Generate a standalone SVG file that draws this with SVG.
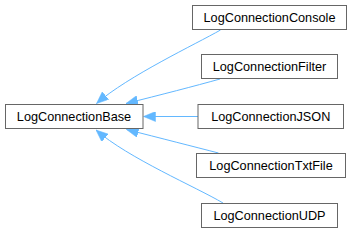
<svg xmlns="http://www.w3.org/2000/svg" width="355" height="233" viewBox="0 0 355 233">
<style>
.box{fill:#ffffff;stroke:#666666;stroke-width:1}
.lbl{font-family:"Liberation Sans",Arial,sans-serif;font-size:12.7px;fill:#000000;text-anchor:middle}
.edge{fill:none;stroke:#63b8ff;stroke-width:1;marker-end:url(#arr)}
</style>
<defs>
<marker id="arr" viewBox="0 0 12 10" refX="12" refY="5" markerWidth="12" markerHeight="10" markerUnits="userSpaceOnUse" orient="auto">
<path d="M0,0 L12,5 L0,10 z" fill="#63b8ff" stroke="#63b8ff" stroke-width="0.5"/>
</marker>
</defs>
<rect width="355" height="233" fill="#ffffff"/>
<g id="edges">
<path class="edge" d="M220.5,30 C196,44 128,76 96.5,103.5"/>
<path class="edge" d="M220,79 C195,86 160,95 126,103.5"/>
<path class="edge" d="M198,116.5 L143.5,116.5"/>
<path class="edge" d="M218.5,153 C195,147 160,138 126.5,129.5"/>
<path class="edge" d="M223,203 C196,187 128,158 96,130"/>
</g>
<g id="LogConnectionBase">
<rect class="box" x="5.5" y="104.5" width="137.5" height="24"/>
<text class="lbl" x="74" y="121">LogConnectionBase</text>
</g>
<g id="LogConnectionConsole">
<rect class="box" x="192.5" y="5.5" width="154" height="24"/>
<text class="lbl" x="269.5" y="22">LogConnectionConsole</text>
</g>
<g id="LogConnectionFilter">
<rect class="box" x="201.5" y="54.5" width="136" height="24"/>
<text class="lbl" x="269.5" y="71">LogConnectionFilter</text>
</g>
<g id="LogConnectionJSON">
<rect class="box" x="198" y="104.5" width="145.5" height="24"/>
<text class="lbl" x="270.75" y="121">LogConnectionJSON</text>
</g>
<g id="LogConnectionTxtFile">
<rect class="box" x="196.5" y="153.5" width="149" height="24"/>
<text class="lbl" x="271" y="170">LogConnectionTxtFile</text>
</g>
<g id="LogConnectionUDP">
<rect class="box" x="201.5" y="203.5" width="136" height="24"/>
<text class="lbl" x="269.5" y="220">LogConnectionUDP</text>
</g>
</svg>
